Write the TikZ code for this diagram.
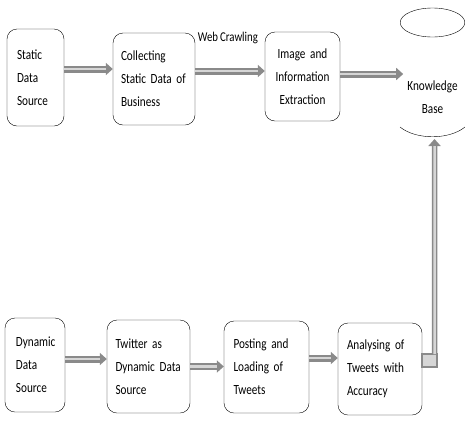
\documentclass[tikz,border=0pt]{standalone}
\usepackage{fontspec}
\setmainfont{Carlito}[FakeStretch=0.8, WordSpace=0.8]
\usepackage{xcolor}
\definecolor{flowgray}{HTML}{8A8A8A}
\definecolor{flowcore}{HTML}{D6D6D6}
\usepackage{tikz}
\usetikzlibrary{arrows.meta, positioning, calc}

\begin{document}
\begin{tikzpicture}[x=1pt, y=-1pt, font=\fontsize{14}{23}\selectfont,
  stagebox/.style={draw, rounded corners=10pt, align=left, inner sep=0pt},
  flow/.style={draw=flowgray, line width=7pt,
    -{Triangle[length=7pt, width=12pt]},
    postaction={draw=flowcore, line width=2.5pt, -, shorten >=7pt}},
  hookbox/.style={draw=flowgray, line width=1.5pt, fill=flowcore}]
  \useasboundingbox (0,0) rectangle (465,432);

  % upper row: static data
  \node[stagebox, minimum width=57pt, minimum height=97pt, text width=37pt] (sds) at (35.5, 77.5) {Static\\Data\\Source};
  \node[stagebox, minimum width=82pt, minimum height=92pt, text width=66pt] (col) at (154, 79) {Collecting\\Static Data of\\Business};
  \node[stagebox, minimum width=75pt, minimum height=89pt, text width=65pt, align=center] (img) at (302.5, 76.5) {Image and\\Information\\Extraction};

  % knowledge base
  \draw (432.5, 22.5) ellipse [x radius=32.3pt, y radius=14.5pt];
  \node[align=center] (kb) at (432.5, 97) {Knowledge\\Base};
  \draw (400, 127) .. controls (416, 140) and (449, 140) .. (465, 127);
  \coordinate (kbbot) at (434.5, 139);

  % lower row: dynamic data
  \node[stagebox, minimum width=60pt, minimum height=94pt, text width=38pt] (dds) at (35, 365) {Dynamic\\Data\\Source};
  \node[stagebox, minimum width=83pt, minimum height=93pt, text width=66pt] (tw) at (148.5, 366.5) {Twitter as\\Dynamic Data\\Source};
  \node[stagebox, minimum width=85pt, minimum height=92pt, text width=66pt] (post) at (266.5, 367) {Posting and\\Loading of\\Tweets};
  \node[stagebox, minimum width=84pt, minimum height=92pt, text width=66pt] (ana) at (380, 369) {Analysing of\\Tweets with\\Accuracy};

  % connectors
  \draw[flow] ([yshift=8.5pt]sds.east) -- ([yshift=8.5pt]sds.east -| col.west);
  \draw[flow] ([yshift=8pt]col.east) -- ([yshift=8pt]col.east -| img.west)
    node[pos=0.47, above=20pt, font=\fontsize{13.5}{15}\selectfont] (crawl) {Web Crawling};
  \draw[flow] ([yshift=2.5pt]img.east) -- ++(63, 0);
  \draw[flow] ([yshift=6pt]dds.east) -- ([yshift=6pt]dds.east -| tw.west);
  \draw[flow] (tw.east) -- (tw.east -| post.west);
  \draw[flow] ([yshift=9pt]post.east) -- ([yshift=9pt]post.east -| ana.west);
  \draw[hookbox] ([yshift=15pt]ana.east) rectangle ([yshift=2pt, xshift=15pt]ana.east);
  \draw[flow, line width=5.5pt] ([xshift=12.5pt, yshift=15pt]ana.east) -- (kbbot);
\end{tikzpicture}
\end{document}
